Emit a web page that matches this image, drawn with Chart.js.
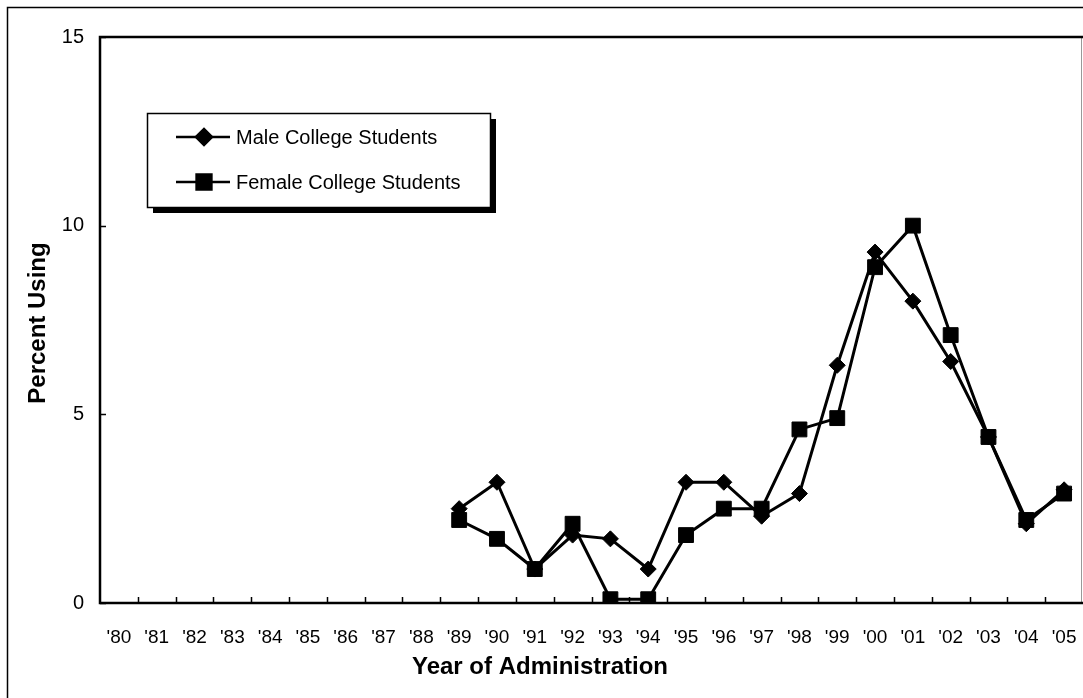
<!DOCTYPE html>
<html>
<head>
<meta charset="utf-8">
<script src="https://cdn.jsdelivr.net/npm/chart.js@4"></script>
<style>
  html, body { margin: 0; padding: 0; background: #fff; }
  #wrap { width: 1083px; height: 698px; }
</style>
</head>
<body>
<div id="wrap"><canvas id="chart" width="1083" height="698"></canvas></div>
<script>
'use strict';

const years  = ["'80","'81","'82","'83","'84","'85","'86","'87","'88","'89","'90","'91","'92",
                "'93","'94","'95","'96","'97","'98","'99","'00","'01","'02","'03","'04","'05"];
const male   = [null,null,null,null,null,null,null,null,null,
                2.5, 3.2, 0.9, 1.8, 1.7, 0.9, 3.2, 3.2, 2.3, 2.9, 6.3, 9.3, 8.0, 6.4, 4.4, 2.1, 3.0];
const female = [null,null,null,null,null,null,null,null,null,
                2.2, 1.7, 0.9, 2.1, 0.1, 0.1, 1.8, 2.5, 2.5, 4.6, 4.9, 8.9, 10.0, 7.1, 4.4, 2.2, 2.9];
const yTicks = [0, 5, 10, 15];
const seriesNames = ['Male College Students', 'Female College Students'];

const FONT = 'Arial, "Liberation Sans", sans-serif';

// 프레임, 눈금, 축 제목, 범례 직접 그리기
const framePlugin = {
  id: 'frame',
  beforeDraw(chart) {
    const ctx = chart.ctx;
    ctx.save();
    ctx.fillStyle = '#fff';
    ctx.fillRect(0, 0, chart.width, chart.height);
    // outer figure border (top/left visible)
    ctx.strokeStyle = '#000';
    ctx.lineWidth = 1.5;
    ctx.beginPath();
    ctx.moveTo(7.5, chart.height + 5);
    ctx.lineTo(7.5, 7.5);
    ctx.lineTo(chart.width + 5, 7.5);
    ctx.stroke();
    ctx.restore();
  },
  afterDraw(chart) {
    const ctx = chart.ctx;
    const a = chart.chartArea;
    const ys = chart.scales.y;
    ctx.save();

    // right border (thin gray)
    ctx.strokeStyle = '#999';
    ctx.lineWidth = 1;
    ctx.beginPath();
    ctx.moveTo(a.right - 1.5, a.top);
    ctx.lineTo(a.right - 1.5, a.bottom);
    ctx.stroke();

    // axes + top border
    ctx.strokeStyle = '#000';
    ctx.lineWidth = 2.5;
    ctx.beginPath();
    ctx.moveTo(a.right, a.top);
    ctx.lineTo(a.left, a.top);
    ctx.lineTo(a.left, a.bottom);
    ctx.lineTo(a.right, a.bottom);
    ctx.stroke();

    // inside tick marks
    ctx.lineWidth = 1.5;
    ctx.beginPath();
    const n = years.length;
    const step = (a.right - a.left) / n;
    for (let i = 1; i < n; i++) {
      const x = Math.round(a.left + i * step) + 0.5;
      ctx.moveTo(x, a.bottom);
      ctx.lineTo(x, a.bottom - 6);
    }
    yTicks.forEach(v => {
      const y = Math.round(ys.getPixelForValue(v)) + 0.5;
      ctx.moveTo(a.left, y);
      ctx.lineTo(a.left + 6, y);
    });
    ctx.stroke();

    // axis titles
    ctx.fillStyle = '#000';
    ctx.font = 'bold 24px ' + FONT;
    ctx.textAlign = 'center';
    ctx.textBaseline = 'middle';
    ctx.fillText('Year of Administration', 540, 667);
    ctx.save();
    ctx.translate(38, 323);
    ctx.rotate(-Math.PI / 2);
    ctx.fillText('Percent Using', 0, 0);
    ctx.restore();

    // legend box with shadow
    const lx = 147, ly = 113, lw = 343, lh = 94;
    ctx.fillStyle = '#000';
    ctx.fillRect(lx + 6, ly + 6, lw, lh);
    ctx.fillStyle = '#fff';
    ctx.fillRect(lx, ly, lw, lh);
    ctx.strokeStyle = '#000';
    ctx.lineWidth = 1.5;
    ctx.strokeRect(lx + 0.5, ly + 0.5, lw, lh);

    const rows = [137, 182];
    chart.data.datasets.forEach((ds, i) => {
      const y = rows[i];
      ctx.strokeStyle = '#000';
      ctx.lineWidth = 2.5;
      ctx.beginPath();
      ctx.moveTo(176, y);
      ctx.lineTo(230, y);
      ctx.stroke();
      ctx.fillStyle = '#000';
      Chart.helpers.drawPoint(ctx, {
        pointStyle: ds.pointStyle, radius: ds.pointRadius, rotation: 0, borderWidth: 1
      }, 204, y);
      ctx.fillStyle = '#000';
      ctx.font = '20px ' + FONT;
      ctx.textAlign = 'left';
      ctx.textBaseline = 'middle';
      ctx.fillText(seriesNames[i], 236, y + 1);
    });

    ctx.restore();
  }
};

new Chart(document.getElementById('chart'), {
  type: 'line',
  data: {
    labels: years,
    datasets: [
      {
        label: seriesNames[0],
        data: male,
        borderColor: '#000',
        backgroundColor: '#000',
        borderWidth: 3,
        pointStyle: 'rectRot',
        pointRadius: 8,
        pointBorderWidth: 1,
        tension: 0
      },
      {
        label: seriesNames[1],
        data: female,
        borderColor: '#000',
        backgroundColor: '#000',
        borderWidth: 3,
        pointStyle: 'rect',
        pointRadius: 10.5,
        pointBorderWidth: 1,
        tension: 0
      }
    ]
  },
  options: {
    responsive: false,
    animation: false,
    layout: { autoPadding: false, padding: { top: 37, left: 0, right: 0, bottom: 0 } },
    scales: {
      x: {
        type: 'category',
        offset: true,
        grid: { display: false, drawTicks: false },
        border: { display: false },
        ticks: {
          color: '#000',
          font: { family: FONT, size: 19 },
          padding: 23,
          maxRotation: 0,
          autoSkip: false
        },
        afterFit: s => { s.height = 95; s.paddingLeft = 0; s.paddingRight = 0; }
      },
      y: {
        min: 0, max: 15,
        grid: { display: false, drawTicks: false },
        border: { display: false },
        afterBuildTicks: s => { s.ticks = yTicks.map(v => ({ value: v })); },
        ticks: {
          color: '#000',
          font: { family: FONT, size: 20 },
          padding: 16
        },
        afterFit: s => { s.width = 100; s.paddingTop = 0; s.paddingBottom = 0; }
      }
    },
    plugins: {
      legend: { display: false },
      tooltip: { enabled: false }
    }
  },
  plugins: [framePlugin]
});
</script>
</body>
</html>
